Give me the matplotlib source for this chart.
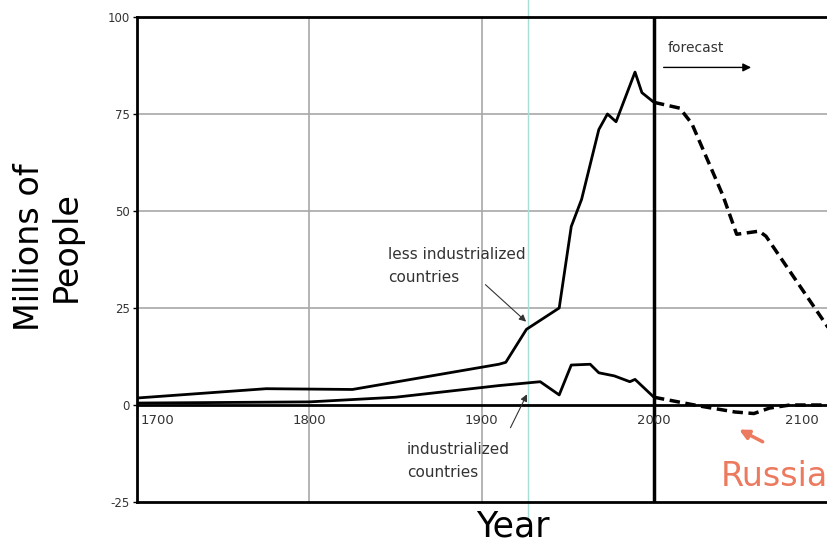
import matplotlib
matplotlib.use("Agg")
import matplotlib.pyplot as plt
import matplotlib.transforms as mtransforms

# less industrialized countries (historic, solid)
less_years = [1700, 1775, 1825, 1910, 1914, 1926, 1945, 1952, 1958, 1968, 1973, 1978, 1989, 1993, 2000]
less_vals = [1.8, 4.2, 4.0, 10.5, 11.0, 19.5, 25.0, 46.0, 53.0, 71.0, 75.0, 73.0, 85.8, 80.5, 78.0]
# less industrialized forecast (dashed)
less_fc_years = [2000, 2015, 2022, 2040, 2048, 2061, 2065, 2101]
less_fc_vals = [78.0, 76.5, 72.5, 54.0, 44.0, 44.8, 43.5, 20.0]

# industrialized countries (historic, solid)
ind_years = [1700, 1800, 1850, 1910, 1934, 1945, 1952, 1963, 1968, 1977, 1986, 1989, 2000]
ind_vals = [0.5, 0.8, 2.0, 5.0, 6.0, 2.6, 10.3, 10.5, 8.3, 7.5, 6.0, 6.6, 2.0]
# industrialized forecast (dashed) - Russia
ind_fc_years = [2000, 2027, 2047, 2058, 2067, 2079, 2101]
ind_fc_vals = [2.0, -0.3, -1.8, -2.2, -0.8, 0.0, 0.0]

ytick_vals = [-25, 0, 25, 50, 75, 100]
xtick_vals = [1700, 1800, 1900, 2000, 2100]

plt.rcParams["font.family"] = "DejaVu Sans"

fig = plt.figure(figsize=(8.28, 5.55), dpi=100)
ax = fig.add_axes([0.1655, 0.0955, 0.8345, 0.8739])
ax.set_xlim(1700, 2101)
ax.set_ylim(-25, 100)

# grid
for yv in [25, 50, 75]:
    ax.axhline(yv, color="#a8a8a8", lw=1.2, zorder=1)
for xv in [1800, 1900]:
    ax.axvline(xv, color="#a8a8a8", lw=1.2, zorder=1)
ax.axhline(0, color="black", lw=2, zorder=2)
ax.axvline(2000, color="black", lw=2.5, zorder=2)

# thin cyan guide line
trans = mtransforms.blended_transform_factory(ax.transData, ax.transAxes)
ax.plot([1927, 1927], [-0.03, 1.04], color="#a6ddd5", lw=1, transform=trans,
        clip_on=False, zorder=1)

ax.plot(less_years, less_vals, color="black", lw=2, zorder=3)
ax.plot(less_fc_years, less_fc_vals, color="black", lw=2.5, ls=(0, (3, 1.6)), zorder=3)
ax.plot(ind_years, ind_vals, color="black", lw=2, zorder=3)
ax.plot(ind_fc_years, ind_fc_vals, color="black", lw=2.5, ls=(0, (3, 1.6)), zorder=3)

for s in ["top", "left", "bottom"]:
    ax.spines[s].set_linewidth(2)
ax.spines["right"].set_visible(False)

ax.set_yticks(ytick_vals)
ax.set_yticklabels([str(v) for v in ytick_vals], fontsize=8.5, color="#333333")
ax.tick_params(axis="y", length=3, width=1, pad=2)
ax.set_xticks([])

# x tick labels drawn inside the axes, below the zero line
for xv in xtick_vals:
    off = 0
    if xv == 1700:
        off = 12
    if xv == 2100:
        off = -14
    ax.text(xv + off, -2.3, str(xv), ha="center", va="top", fontsize=9.5,
            color="#333333")

ax.text(1918, -27, "Year", ha="center", va="top", fontsize=25, clip_on=False)
fig.text(0.058, 0.555, "Millions of\nPeople", rotation=90, ha="center",
         va="center", fontsize=24, linespacing=1.12)

ax.text(1845.5, 35.8, "less industrialized\ncountries", fontsize=11,
        color="#333333", va="center", linespacing=1.65)
ax.annotate("", xy=(1927, 21), xytext=(1901, 31.5),
            arrowprops=dict(arrowstyle="-|>", color="#333333", lw=0.8,
                            mutation_scale=10))

ax.text(1856.5, -14.5, "industrialized\ncountries", fontsize=11,
        color="#333333", va="center", linespacing=1.65)
ax.annotate("", xy=(1927, 3.4), xytext=(1916, -6.5),
            arrowprops=dict(arrowstyle="-|>", color="#333333", lw=0.8,
                            mutation_scale=10))

ax.text(2008, 92, "forecast", fontsize=10, color="#333333", va="center")
ax.annotate("", xy=(2058, 87), xytext=(2004, 87),
            arrowprops=dict(arrowstyle="-|>", color="black", lw=1,
                            mutation_scale=12))

ax.text(2101, -18.5, "Russia", fontsize=24, color="#ec7a5f", ha="right",
        va="center")
ax.annotate("", xy=(2048, -6), xytext=(2064.5, -9.8),
            arrowprops=dict(arrowstyle="-|>", color="#ec7a5f", lw=2.5,
                            mutation_scale=14))

fig.savefig("out.png", dpi=100)
